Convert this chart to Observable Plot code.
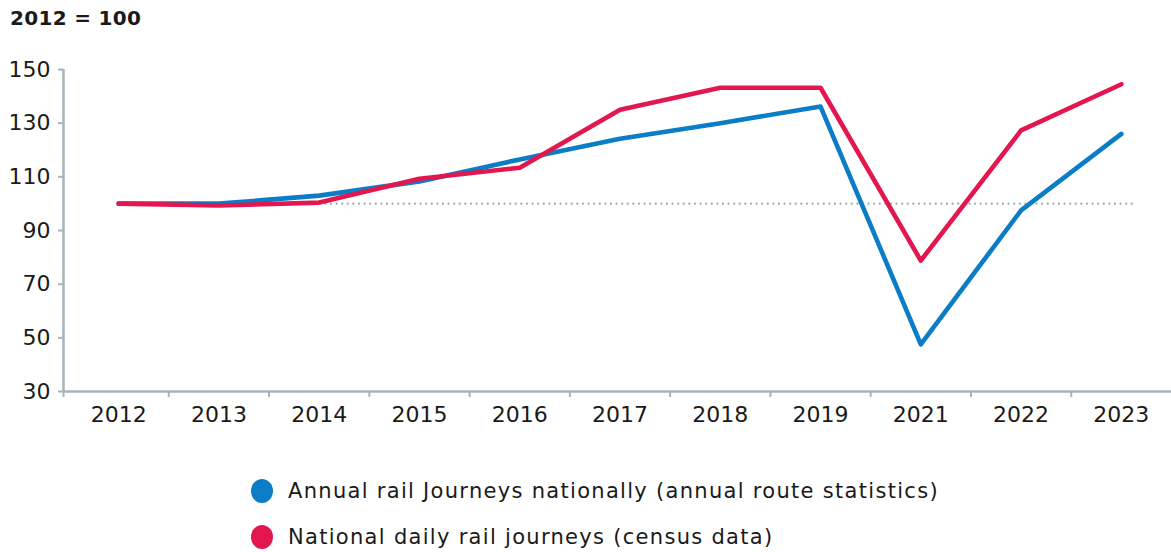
<!DOCTYPE html>
<html>
<head>
<meta charset="utf-8">
<script src="https://cdn.jsdelivr.net/npm/d3@7"></script>
<script src="https://cdn.jsdelivr.net/npm/@observablehq/plot@0.6"></script>
<style>
  html, body { margin: 0; padding: 0; background: #fff; }
  body { width: 1171px; height: 552px; overflow: hidden; font-family: "DejaVu Sans", sans-serif; color: #1a1a1a; }
  #title { font-weight: 700; font-size: 20px; line-height: 36px; padding-left: 10px; height: 36px; letter-spacing: 0.3px; }
  #legend { padding-top: 40px; padding-left: 251px; }
  .row { display: flex; align-items: center; height: 46px; font-size: 21px; letter-spacing: 1.3px; }
  .sw { width: 22px; height: 24px; border-radius: 50%; margin-right: 15px; flex: none; }
</style>
</head>
<body>
<div id="title">2012 = 100</div>
<div id="chart"></div>
<div id="legend"></div>
<script>
const years = ["2012","2013","2014","2015","2016","2017","2018","2019","2021","2022","2023"];
const annualRoute = [100, 100, 103, 108.3, 116.5, 124.2, 130, 136.2, 47.6, 97.5, 126];
const censusDaily = [100, 99.3, 100.4, 109.3, 113.4, 135, 143.2, 143.2, 78.8, 127.3, 144.5];
const seriesNames = ["Annual rail Journeys nationally (annual route statistics)", "National daily rail journeys (census data)"];
const seriesColors = ["#0a7dc6", "#e2174f"];
const yTicks = [30, 50, 70, 90, 110, 130, 150];
const baseline = 100;

const rows = [];
years.forEach((y, i) => {
  rows.push({i, year: y, value: annualRoute[i], series: seriesNames[0]});
  rows.push({i, year: y, value: censusDaily[i], series: seriesNames[1]});
});
const idx = years.map((_, i) => i);
const xDomain = [-0.55, 10.5];
const boundaries = [xDomain[0], ...d3.range(years.length - 1).map(i => i + 0.5)];
const axisColor = "#a5b3be";

const chart = Plot.plot({
  width: 1171,
  height: 392,
  marginLeft: 63,
  marginRight: 0,
  marginTop: 33,
  marginBottom: 37,
  style: { fontFamily: "DejaVu Sans, sans-serif", fontSize: "22px", color: "#1a1a1a", background: "#fff" },
  x: { type: "linear", domain: xDomain },
  y: { domain: [30, 150] },
  color: { domain: seriesNames, range: seriesColors },
  marks: [
    Plot.ruleY([baseline], { x1: 0, x2: 10, insetRight: -16, stroke: "#9aabb7", strokeWidth: 2.2, strokeDasharray: "0.1 5.5", strokeLinecap: "round" }),
    Plot.axisY({ ticks: yTicks, tickSize: 5, tickPadding: 8, stroke: axisColor, strokeWidth: 2, strokeOpacity: 1, label: null, fontSize: 22 }),
    Plot.ruleX([xDomain[0]], { y1: 30, y2: 150, stroke: axisColor, strokeWidth: 2.5 }),
    Plot.ruleY([30], { stroke: axisColor, strokeWidth: 2.5 }),
    Plot.axisX({ ticks: boundaries, tickSize: 6, tickFormat: () => "", stroke: axisColor, strokeWidth: 2, strokeOpacity: 1, label: null }),
    Plot.axisX({ ticks: idx, tickSize: 0, tickPadding: 15, tickFormat: i => years[i], label: null, fontSize: 22 }),
    Plot.line(rows, { x: "i", y: "value", z: "series", stroke: "series", strokeWidth: 4.6, strokeLinecap: "round", strokeLinejoin: "round" })
  ]
});
document.getElementById("chart").append(chart);

const legend = document.getElementById("legend");
seriesNames.forEach((name, k) => {
  const row = document.createElement("div");
  row.className = "row";
  const sw = document.createElement("span");
  sw.className = "sw";
  sw.style.background = seriesColors[k];
  const t = document.createElement("span");
  t.textContent = name;
  row.append(sw, t);
  legend.append(row);
});
</script>
</body>
</html>
